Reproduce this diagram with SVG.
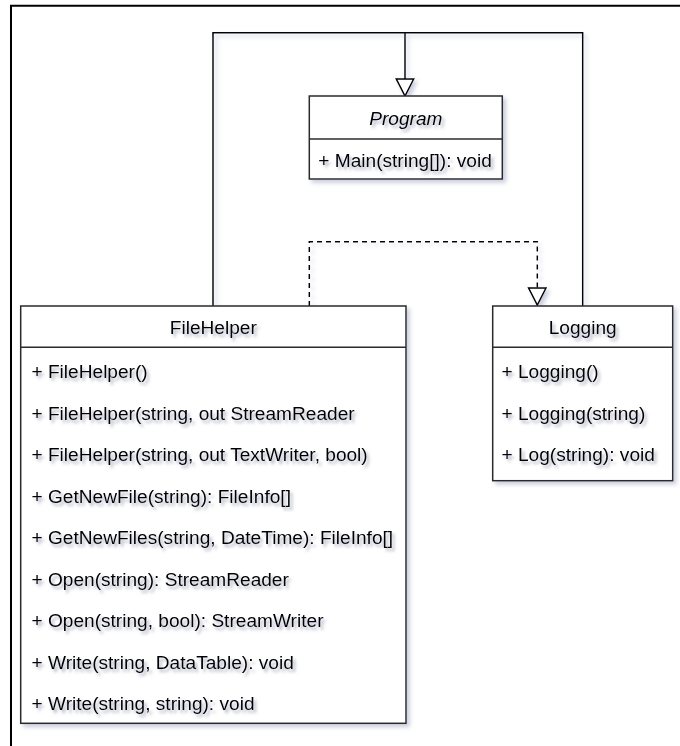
<svg xmlns="http://www.w3.org/2000/svg" width="680" height="746" viewBox="0 0 680 746">
  <defs>
    <filter id="shadow" x="-10%" y="-10%" width="130%" height="130%">
      <feDropShadow dx="3" dy="3" stdDeviation="2" flood-color="#8a90b4" flood-opacity="0.45"/>
    </filter>
    <filter id="textshadow" x="-10%" y="-30%" width="130%" height="180%">
      <feDropShadow dx="2.5" dy="3" stdDeviation="1.8" flood-color="#6e7390" flood-opacity="0.55"/>
    </filter>
    <marker id="inherit" viewBox="0 0 20 20" markerWidth="20" markerHeight="20" refX="18" refY="10" orient="auto" markerUnits="userSpaceOnUse">
      <path d="M1,1.3 L18,10 L1,18.7 Z" fill="#ffffff" stroke="#000000" stroke-width="1.5"/>
    </marker>
  </defs>
  <style>
    .box { fill: #ffffff; stroke: #2b2b2b; stroke-width: 1.5; }
    .sep { stroke: #2b2b2b; stroke-width: 1.5; }
    .edge { fill: none; stroke: #000000; stroke-width: 1.5; }
    .dashed { stroke-dasharray: 5 4; }
    text { font-family: "Liberation Sans", Arial, Helvetica, sans-serif; font-size: 19.1px; fill: #000000; filter: url(#textshadow); }
    .title { text-anchor: middle; }
    .abstract { font-style: italic; }
    .sh { filter: url(#shadow); }
  </style>

  <rect width="680" height="746" fill="#ffffff"/>
  <!-- page frame (top and left edges only) -->
  <path d="M11,746 V5.8 H680" fill="none" stroke="#000000" stroke-width="2"/>

  <!-- connectors -->
  <g id="connectors" class="sh">
    <!-- FileHelper and Logging both generalize Program -->
    <path class="edge" d="M213,306 V32.7 H582.7 V306"/>
    <path class="edge" d="M405,32.7 V96" marker-end="url(#inherit)"/>
    <!-- FileHelper realizes Logging -->
    <path class="edge dashed" d="M309.3,306 V241.7 H537.3 V305" marker-end="url(#inherit)"/>
  </g>

  <!-- Program -->
  <g id="program">
    <rect class="box sh" x="309.3" y="96" width="193" height="83"/>
    <line class="sep" x1="309.3" y1="139" x2="502.3" y2="139"/>
    <text class="title abstract" x="405.8" y="125">Program</text>
    <text x="318.3" y="166.5">+ Main(string[]): void</text>
  </g>

  <!-- FileHelper -->
  <g id="filehelper">
    <rect class="box sh" x="20.7" y="306" width="385.3" height="417.3"/>
    <line class="sep" x1="20.7" y1="347.3" x2="406" y2="347.3"/>
    <text class="title" x="213.3" y="333.5">FileHelper</text>
    <text x="31.5" y="378">+ FileHelper()</text>
    <text x="31.5" y="419.5">+ FileHelper(string, out StreamReader</text>
    <text x="31.5" y="461">+ FileHelper(string, out TextWriter, bool)</text>
    <text x="31.5" y="502.5">+ GetNewFile(string): FileInfo[]</text>
    <text x="31.5" y="544">+ GetNewFiles(string, DateTime): FileInfo[]</text>
    <text x="31.5" y="585.5">+ Open(string): StreamReader</text>
    <text x="31.5" y="627">+ Open(string, bool): StreamWriter</text>
    <text x="31.5" y="668.5">+ Write(string, DataTable): void</text>
    <text x="31.5" y="710">+ Write(string, string): void</text>
  </g>

  <!-- Logging -->
  <g id="logging">
    <rect class="box sh" x="492.7" y="306" width="180" height="174.7"/>
    <line class="sep" x1="492.7" y1="347.3" x2="672.7" y2="347.3"/>
    <text class="title" x="582.7" y="334">Logging</text>
    <text x="501.5" y="378">+ Logging()</text>
    <text x="501.5" y="419.5">+ Logging(string)</text>
    <text x="501.5" y="461">+ Log(string): void</text>
  </g>
</svg>
